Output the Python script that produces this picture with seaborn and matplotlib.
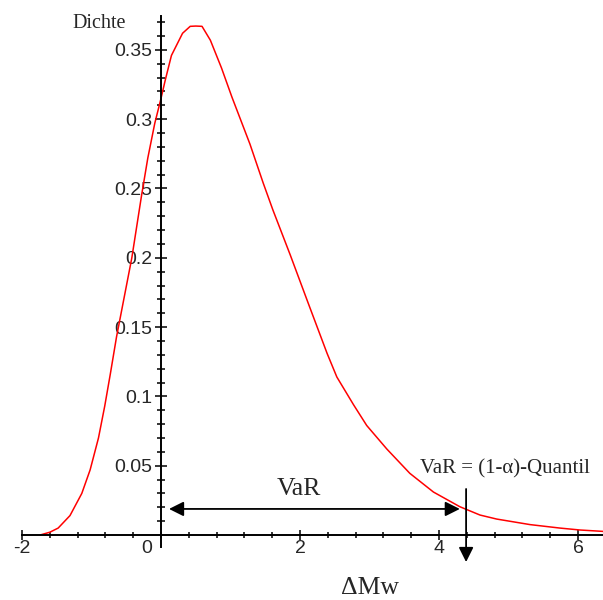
import numpy as np
import pandas as pd
import matplotlib
matplotlib.use("Agg")
import matplotlib.pyplot as plt
import seaborn as sns
from matplotlib.ticker import FixedLocator

# --- data ---
delta_mw = [-1.74, -1.60, -1.48, -1.31, -1.14, -1.02, -0.90, -0.81, -0.73, -0.64,
            -0.42, -0.28, -0.19, -0.09, 0.00, 0.06, 0.15, 0.31, 0.42, 0.50, 0.59,
            0.71, 0.87, 1.02, 1.28, 1.47, 1.61, 1.86, 2.12, 2.39, 2.53, 2.77, 2.96,
            3.25, 3.58, 3.92, 4.30, 4.59, 4.83, 5.31, 5.74, 6.03, 6.36]
dichte = [0.000, 0.002, 0.005, 0.014, 0.030, 0.047, 0.070, 0.093, 0.116, 0.143,
          0.200, 0.245, 0.272, 0.297, 0.315, 0.328, 0.346, 0.362, 0.367, 0.3672, 0.367,
          0.357, 0.337, 0.316, 0.282, 0.254, 0.2345, 0.202, 0.167, 0.131, 0.114, 0.094, 0.079,
          0.062, 0.0445, 0.031, 0.0204, 0.0144, 0.0115, 0.0075, 0.0050, 0.0036, 0.0026]

x_ticks = [-2, 2, 4, 6]
x_tick_labels = ["-2", "2", "4", "6"]
y_ticks = [0.05, 0.10, 0.15, 0.20, 0.25, 0.30, 0.35]
y_tick_labels = ["0.05", "0.1", "0.15", "0.2", "0.25", "0.3", "0.35"]

var_left, var_right, var_level = 0.115, 4.30, 0.0188   # VaR double arrow
quantile_x, quantile_top, quantile_bottom = 4.39, 0.0332, -0.0195

sns.set_theme(style="white")
plt.rcParams["font.family"] = ["Liberation Sans", "DejaVu Sans"]

fig = plt.figure(figsize=(6.03, 6.0), dpi=100)
ax = fig.add_axes([0, 0, 1, 1])
ax.set_facecolor("white")

df = pd.DataFrame({"dMw": delta_mw, "Dichte": dichte})
sns.lineplot(data=df, x="dMw", y="Dichte", color="#ff0000", lw=1.1,
             sort=False, estimator=None, ax=ax)

ax.set_xlim(-2.317, 6.36)
ax.set_ylim(-0.0469, 0.386)
ax.set_xlabel("")
ax.set_ylabel("")

for s in ["top", "right"]:
    ax.spines[s].set_visible(False)
ax.spines["left"].set_position(("data", 0))
ax.spines["bottom"].set_position(("data", 0))
ax.spines["left"].set_bounds(-0.0087, 0.3745)
ax.spines["bottom"].set_bounds(-2.0, 6.36)
for s in ["left", "bottom"]:
    ax.spines[s].set_color("black")
    ax.spines[s].set_linewidth(1.4)

ax.xaxis.set_major_locator(FixedLocator(x_ticks))
ax.set_xticklabels(x_tick_labels)
ax.xaxis.set_minor_locator(FixedLocator(np.arange(-1.6, 6.3, 0.4)))
ax.yaxis.set_major_locator(FixedLocator(y_ticks))
ax.set_yticklabels(y_tick_labels)
ax.yaxis.set_minor_locator(FixedLocator(np.arange(0.01, 0.375, 0.01)))

ax.tick_params(axis="x", which="major", direction="inout", length=7.2, width=1.1,
               color="black", labelsize=14, pad=0, bottom=True)
ax.tick_params(axis="x", which="minor", direction="inout", length=5, width=1.1,
               color="black", bottom=True)
ax.tick_params(axis="y", which="major", direction="inout", length=8.6, width=1.1,
               color="black", labelsize=14, pad=1.8, left=True)
ax.tick_params(axis="y", which="minor", direction="inout", length=5.8, width=1.1,
               color="black", left=True)

ax.annotate("0", xy=(0, 0), xytext=(-10.5, -3.6), textcoords="offset points",
            ha="center", va="top", fontsize=14, family=["Liberation Sans"])

serif = ["Liberation Serif", "DejaVu Serif"]
ax.text(-1.281, 0.3656, "Dichte", fontsize=14.5, family=serif, ha="left", va="baseline")
ax.text(1.978, 0.0289, "VaR", fontsize=18.5, family=serif, ha="center", va="baseline")
ax.text(3.727, 0.0445, "VaR = (1-\u03b1)-Quantil", fontsize=15, family=serif,
        ha="left", va="baseline")
ax.text(3.007, -0.0424, "\u0394Mw", fontsize=18.5, family=serif, ha="center", va="baseline")

ax.annotate("", xy=(var_left, var_level), xytext=(var_right, var_level),
            arrowprops=dict(arrowstyle="<|-|>,head_length=0.4,head_width=0.2",
                            color="black", lw=1.3, mutation_scale=22,
                            shrinkA=0, shrinkB=0))
ax.annotate("", xy=(quantile_x, quantile_bottom), xytext=(quantile_x, quantile_top),
            arrowprops=dict(arrowstyle="-|>,head_length=0.4,head_width=0.2",
                            color="black", lw=1.3, mutation_scale=22,
                            shrinkA=0, shrinkB=0))

fig.savefig("out.png", dpi=100)
